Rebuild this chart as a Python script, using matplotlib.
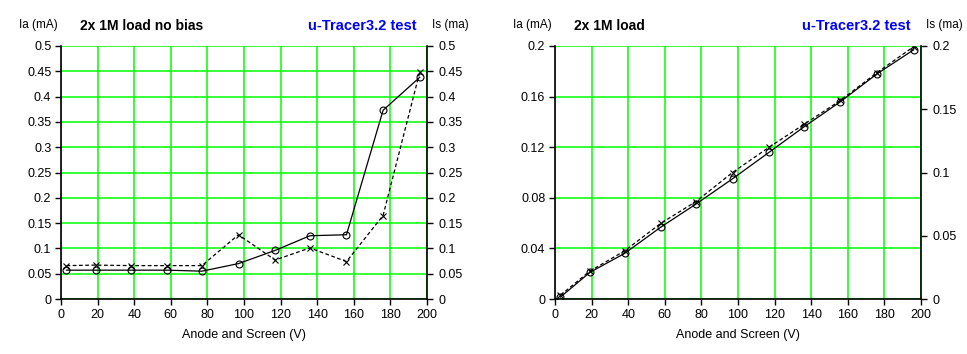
import matplotlib
matplotlib.use("Agg")
import matplotlib.pyplot as plt
import numpy as np

# Data
volts = [3, 19, 38, 58, 77, 97, 117, 136, 156, 176, 196]

nobias_ia = [0.057, 0.057, 0.057, 0.057, 0.055, 0.070, 0.096, 0.125, 0.127, 0.373, 0.438]
nobias_is = [0.066, 0.067, 0.066, 0.066, 0.066, 0.127, 0.077, 0.101, 0.074, 0.165, 0.448]

load_ia = [0.0015, 0.021, 0.036, 0.057, 0.075, 0.095, 0.116, 0.136, 0.156, 0.178, 0.197]
load_is = [0.003, 0.022, 0.038, 0.060, 0.077, 0.100, 0.120, 0.138, 0.157, 0.179, 0.1995]

x_ticks = [0, 20, 40, 60, 80, 100, 120, 140, 160, 180, 200]
left_ticks_1 = [0, 0.05, 0.1, 0.15, 0.2, 0.25, 0.3, 0.35, 0.4, 0.45, 0.5]
left_labels_1 = ["0", "0.05", "0.1", "0.15", "0.2", "0.25", "0.3", "0.35", "0.4", "0.45", "0.5"]
left_ticks_2 = [0, 0.04, 0.08, 0.12, 0.16, 0.2]
left_labels_2 = ["0", "0.04", "0.08", "0.12", "0.16", "0.2"]
right_ticks_2 = [0, 0.05, 0.1, 0.15, 0.2]
right_labels_2 = ["0", "0.05", "0.1", "0.15", "0.2"]

titles = ["2x 1M load no bias", "2x 1M load"]
brand = "u-Tracer3.2 test"

plt.rcParams['font.family'] = ['Liberation Sans', 'DejaVu Sans']

W, H = 967, 354
fig = plt.figure(figsize=(W / 100, H / 100), dpi=100)

GREEN = "#00FF00"


def make_panel(x0, ia, is_, lt, ll, rt, rl, ymax, title):
    ax = fig.add_axes([x0 / W, (H - 299) / H, 366 / W, 253 / H])
    ax.set_xlim(0, 200)
    ax.set_ylim(0, ymax)
    ax.set_xticks(x_ticks)
    ax.set_xticklabels([str(v) for v in x_ticks])
    ax.set_yticks(lt)
    ax.set_yticklabels(ll)
    ax.grid(True, color=GREEN, linewidth=1.1)
    ax.set_axisbelow(True)
    for s in ["top", "right"]:
        ax.spines[s].set_visible(False)
    ax.spines["left"].set_linewidth(1.2)
    ax.spines["bottom"].set_linewidth(1.2)
    ax.tick_params(direction="out", length=4, width=1, labelsize=9, pad=3)
    ax.plot(volts, ia, color="black", linewidth=0.9, marker="o", markersize=5,
            markerfacecolor="none", markeredgewidth=0.8, zorder=3)
    ax2 = ax.twinx()
    ax2.set_ylim(0, ymax)
    ax2.set_yticks(rt)
    ax2.set_yticklabels(rl)
    for s in ["top", "left", "bottom"]:
        ax2.spines[s].set_visible(False)
    ax2.spines["right"].set_linewidth(1.2)
    ax2.tick_params(direction="out", length=4, width=1, labelsize=9, pad=4)
    ax2.plot(volts, is_, color="black", linewidth=0.9, linestyle=(0, (3, 2)),
             marker="x", markersize=5, markeredgewidth=0.8, zorder=3)
    ax.set_xlabel("Anode and Screen (V)", fontsize=9, labelpad=6)
    fig.text((x0 - 42) / W, 1 - 25 / H, "Ia (mA)", fontsize=8.5, va="center", ha="left")
    fig.text((x0 + 19) / W, 1 - 26 / H, title, fontsize=10, fontweight="bold",
             va="center", ha="left")
    fig.text((x0 + 356) / W, 1 - 26 / H, brand, fontsize=10.5, fontweight="bold",
             color="#0000FF", va="center", ha="right")
    fig.text((x0 + 371) / W, 1 - 25 / H, "Is (ma)", fontsize=8.5, va="center", ha="left")


make_panel(61, nobias_ia, nobias_is, left_ticks_1, left_labels_1,
           left_ticks_1, left_labels_1, 0.5, titles[0])
make_panel(555, load_ia, load_is, left_ticks_2, left_labels_2,
           right_ticks_2, right_labels_2, 0.2, titles[1])

fig.savefig("out.png", dpi=100, facecolor="white")
